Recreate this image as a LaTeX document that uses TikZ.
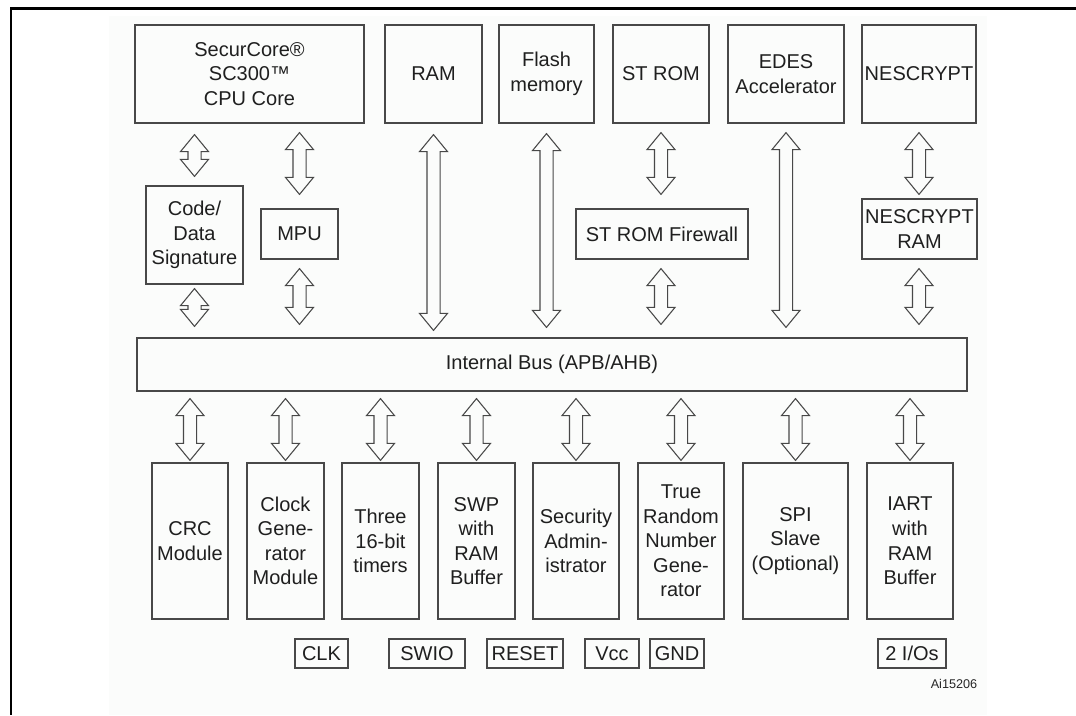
\documentclass[tikz,border=0pt]{standalone}
\usepackage{fontspec}
\setmainfont{Liberation Sans}
\usetikzlibrary{calc}
\definecolor{panel}{RGB}{251,252,251}
\definecolor{edge}{RGB}{72,72,72}
\tikzset{
  blk/.style={draw=edge, line width=0.9pt, align=center, inner sep=0pt,
    font=\fontsize{15}{18.4}\selectfont, text=black!88},
  wh/.style 2 args={minimum width=#1*0.75pt, minimum height=#2*0.75pt},
  pinbox/.style={blk, minimum height=29*0.75pt},
  duplexline/.style={draw=edge, line width=0.8pt, line join=miter}
}
% двойная полая стрелка от #1 (сверху) к #2 (снизу)
\newcommand\duplex[2]{%
  \draw[duplexline] let \p1=#1, \p2=#2 in
    (\x1,\y1) -- (\x1+10.5pt,\y1-12.75pt) -- (\x1+4.9pt,\y1-12.75pt)
    -- (\x1+4.9pt,\y2+12.75pt) -- (\x1+10.5pt,\y2+12.75pt) -- (\x1,\y2)
    -- (\x1-10.5pt,\y2+12.75pt) -- (\x1-4.9pt,\y2+12.75pt)
    -- (\x1-4.9pt,\y1-12.75pt) -- (\x1-10.5pt,\y1-12.75pt) -- cycle;}
\begin{document}
\begin{tikzpicture}[x=0.75pt,y=-0.75pt]
  \useasboundingbox (0,0) rectangle (1076,715);
  % фон и рамка
  \fill[panel] (109,16) rectangle (987,715);
  \draw[line width=2.2pt] (1076,8.5) -- (11,8.5) -- (11,715);
  % верхний ряд
  \node[blk, wh={229}{98}] (cpu) at (249.5,74) {SecurCore®\\SC300™\\CPU Core};
  \node[blk, wh={97}{98}] (ram) at (433.5,74) {RAM};
  \node[blk, wh={95}{98}] (flash) at (546.5,74) {Flash\\memory};
  \node[blk, wh={96}{98}] (strom) at (661,74) {ST ROM};
  \node[blk, wh={116}{98}] (edes) at (786,74) {EDES\\Accelerator};
  \node[blk, wh={114}{98}] (nes) at (919,74) {NESCRYPT};
  % средний ряд
  \node[blk, wh={97}{98}] (code) at (194.5,235) {Code/\\Data\\Signature};
  \node[blk, wh={77}{50}] (mpu) at (299.5,234) {MPU};
  \node[blk, wh={172}{50}] (fw) at (662,234) {ST ROM Firewall};
  \node[blk, wh={115}{60}] (nesram) at (919.5,229) {NESCRYPT\\RAM};
  % шина
  \node[blk, wh={830}{53}] (bus) at (552,364.5) {Internal Bus (APB/AHB)};
  % нижний ряд
  \node[blk, wh={76}{156}] (crc) at (190,541) {CRC\\Module};
  \node[blk, wh={77}{156}] (clkgen) at (285.5,541) {Clock\\Gene-\\rator\\Module};
  \node[blk, wh={77}{156}] (timers) at (380.5,541) {Three\\16-bit\\timers};
  \node[blk, wh={77}{156}] (swp) at (476.5,541) {SWP\\with\\RAM\\Buffer};
  \node[blk, wh={86}{156}] (secadm) at (576,541) {Security\\Admin-\\istrator};
  \node[blk, wh={86}{156}] (trng) at (681,541) {True\\Random\\Number\\Gene-\\rator};
  \node[blk, wh={105}{156}] (spi) at (795.5,541) {SPI\\Slave\\(Optional)};
  \node[blk, wh={86}{156}] (iart) at (910,541) {IART\\with\\RAM\\Buffer};
  % выводы
  \node[pinbox, minimum width=53*0.75pt] (clk) at (321.5,653.5) {CLK};
  \node[pinbox, minimum width=76*0.75pt] (swio) at (427,653.5) {SWIO};
  \node[pinbox, minimum width=76*0.75pt] (reset) at (525,653.5) {RESET};
  \node[pinbox, minimum width=54*0.75pt] (vcc) at (612,653.5) {Vcc};
  \node[pinbox, minimum width=54*0.75pt] (gnd) at (677,653.5) {GND};
  \node[pinbox, minimum width=68*0.75pt] (io) at (912,653.5) {2 I/Os};
  \node[font=\fontsize{9.5}{10}\selectfont, text=black!85] (ref) at (954,684) {Ai15206};
  % стрелки
  \duplex{($(cpu.south -| code)+(0,11)$)}{($(code.north)+(0,-9)$)}
  \duplex{($(code.south)+(0,4)$)}{($(bus.north -| code)+(0,-11)$)}
  \duplex{($(cpu.south -| mpu)+(0,9)$)}{($(mpu.north)+(0,-14)$)}
  \duplex{($(mpu.south)+(0,9)$)}{($(bus.north -| mpu)+(0,-13)$)}
  \duplex{($(ram.south)+(0,11)$)}{($(bus.north -| ram)+(0,-7)$)}
  \duplex{($(flash.south)+(0,10)$)}{($(bus.north -| flash)+(0,-10)$)}
  \duplex{($(strom.south)+(0,9)$)}{($(fw.north -| strom)+(0,-14)$)}
  \duplex{($(fw.south -| strom)+(0,9)$)}{($(bus.north -| strom)+(0,-13)$)}
  \duplex{($(edes.south)+(0,9)$)}{($(bus.north -| edes)+(0,-10)$)}
  \duplex{($(nes.south)+(0,9)$)}{($(nesram.north -| nes)+(0,-4)$)}
  \duplex{($(nesram.south -| nes)+(0,9)$)}{($(bus.north -| nes)+(0,-13)$)}
  \foreach \m in {crc,clkgen,timers,swp,secadm,trng,spi,iart}
    \duplex{($(bus.south -| \m)+(0,7)$)}{($(\m.north)+(0,-2)$)};
\end{tikzpicture}
\end{document}
